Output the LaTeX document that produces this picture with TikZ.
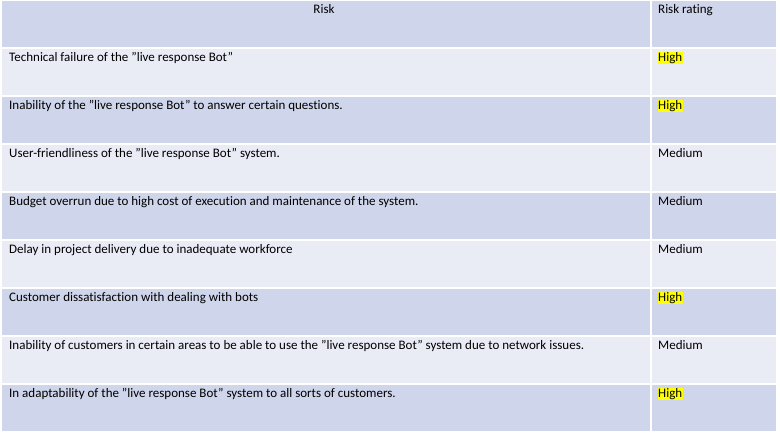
\documentclass[tikz,border=0pt]{standalone}
\usepackage{fontspec}
\setmainfont{Carlito}[Ligatures={NoCommon,NoContextual}]
\definecolor{rowdark}{HTML}{CFD5EA}
\definecolor{rowlight}{HTML}{E9EBF5}
\definecolor{hl}{HTML}{FFFF00}
\definecolor{txt}{HTML}{000000}
\newcommand{\q}{\char34\relax}
\begin{document}
\begin{tikzpicture}[x=1pt,y=-1pt,
  cell/.style={draw=white,line width=2pt},
  tfont/.style={font=\fontsize{13}{15}\selectfont,text=txt},
  txtnode/.style={tfont,anchor=base west,inner sep=0pt},
  hinode/.style={tfont,anchor=base west,inner xsep=0.5pt,inner ysep=0pt,fill=hl,text height=9pt,text depth=2.5pt}]
\useasboundingbox[fill=white] (0,0) rectangle (780,432);
% rows
\foreach \i/\c in {0/rowdark,1/rowlight,2/rowdark,3/rowlight,4/rowdark,5/rowlight,6/rowdark,7/rowlight,8/rowdark}{
  \filldraw[cell,fill=\c] (1,{48*\i}) rectangle (651,{48*\i+48});
  \filldraw[cell,fill=\c] (651,{48*\i}) rectangle (777,{48*\i+48});
}
% header
\node[tfont,anchor=base,inner sep=0pt] (hrisk) at (324,13) {Risk};
\node[txtnode] (hrating) at (658,13) {Risk rating};
% rows
\node[txtnode] (r1) at (9,61) {Technical failure of the \q live response Bot\q};
\node[hinode] (g1) at (657.5,61) {High};
\node[txtnode] (r2) at (9,109) {Inability of the \q live response Bot\q\ to answer certain questions.};
\node[hinode] (g2) at (657.5,109) {High};
\node[txtnode] (r3) at (9,157) {User-friendliness of the \q live response Bot\q\ system.};
\node[txtnode] (g3) at (658,157) {Medium};
\node[txtnode] (r4) at (9,205) {Budget overrun due to high cost of execution and maintenance of the system.};
\node[txtnode] (g4) at (658,205) {Medium};
\node[txtnode] (r5) at (9,253) {Delay in project delivery due to inadequate workforce};
\node[txtnode] (g5) at (658,253) {Medium};
\node[txtnode] (r6) at (9,301) {Customer dissatisfaction with dealing with bots};
\node[hinode] (g6) at (657.5,301) {High};
\node[txtnode] (r7) at (9,349) {Inability of customers in certain areas to be able to use the \q live response Bot\q\ system due to network issues.};
\node[txtnode] (g7) at (658,349) {Medium};
\node[txtnode] (r8) at (9,397) {In adaptability of the \q live response Bot\q\ system to all sorts of customers.};
\node[hinode] (g8) at (657.5,397) {High};
\end{tikzpicture}
\end{document}
